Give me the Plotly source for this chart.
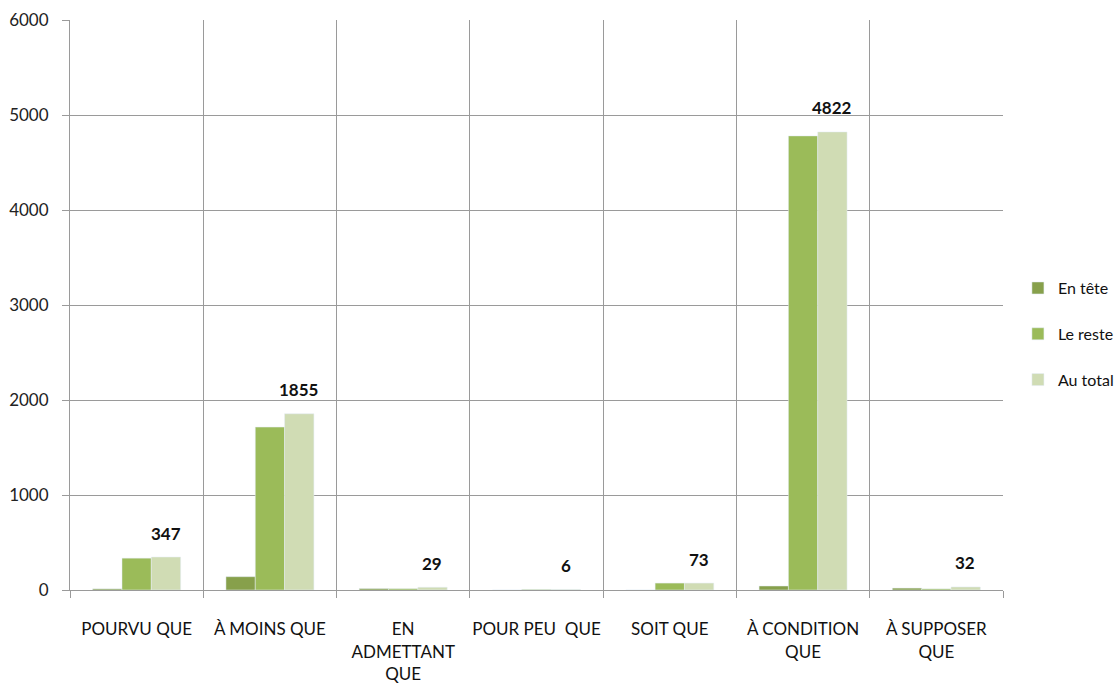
import plotly.graph_objects as go

categories = ["POURVU QUE", "À MOINS QUE", "EN<br>ADMETTANT<br>QUE", "POUR PEU  QUE",
              "SOIT QUE", "À CONDITION<br>QUE", "À SUPPOSER<br>QUE"]
en_tete = [12, 140, 15, 0, 0, 42, 20]
le_reste = [335, 1715, 14, 6, 73, 4780, 12]
au_total = [347, 1855, 29, 6, 73, 4822, 32]
y_ticks = [0, 1000, 2000, 3000, 4000, 5000, 6000]

FONT = "Lato, 'Open Sans', sans-serif"

fig = go.Figure()
fig.add_trace(go.Bar(name="En tête", x=categories, y=en_tete, marker_color="#87a04b",
                     legendgroup="a"))
fig.add_trace(go.Bar(name="Le reste", x=categories, y=le_reste, marker_color="#9bbb59",
                     legendgroup="b"))
fig.add_trace(go.Bar(name="Au total", x=categories, y=au_total, marker_color="#d0dcb4",
                     legendgroup="c"))

for c, v in zip(categories, au_total):
    fig.add_annotation(x=c, y=v, text=f"<b>{v}</b>", showarrow=False, xshift=29,
                       yshift=24, font=dict(family=FONT, size=17, color="#111111"))

fig.update_layout(
    width=1120, height=695,
    margin=dict(l=70, r=117, t=20, b=105, autoexpand=False),
    paper_bgcolor="white", plot_bgcolor="white",
    barmode="group", bargap=0.34, bargroupgap=0,
    font=dict(family=FONT, size=17, color="#222222"),
    legend=dict(x=1.016, y=0.449, yanchor="middle", xanchor="left",
                font=dict(size=16, color="#111111"), tracegroupgap=22,
                itemwidth=30),
    showlegend=True,
)
fig.update_xaxes(type="category", tickson="boundaries", showgrid=True,
                 gridcolor="#9a9a9a", gridwidth=1, showline=True, linecolor="#9a9a9a",
                 linewidth=1, ticks="outside", ticklen=7, tickcolor="#9a9a9a",
                 ticklabelstandoff=24, tickfont=dict(size=17, color="#111111"),
                 tickangle=0, automargin=False, mirror=False)
fig.update_yaxes(range=[0, 6000], tickvals=y_ticks, showgrid=True, gridcolor="#9a9a9a",
                 gridwidth=1, showline=True, linecolor="#9a9a9a", linewidth=1,
                 ticks="outside", ticklen=7, tickcolor="#9a9a9a", ticklabelstandoff=10,
                 tickfont=dict(size=17, color="#222222"), zeroline=False,
                 automargin=False)

fig.write_html("out.html", config={"displayModeBar": False},
               post_script="document.body.style.margin='0px';document.body.style.overflow='hidden';")
